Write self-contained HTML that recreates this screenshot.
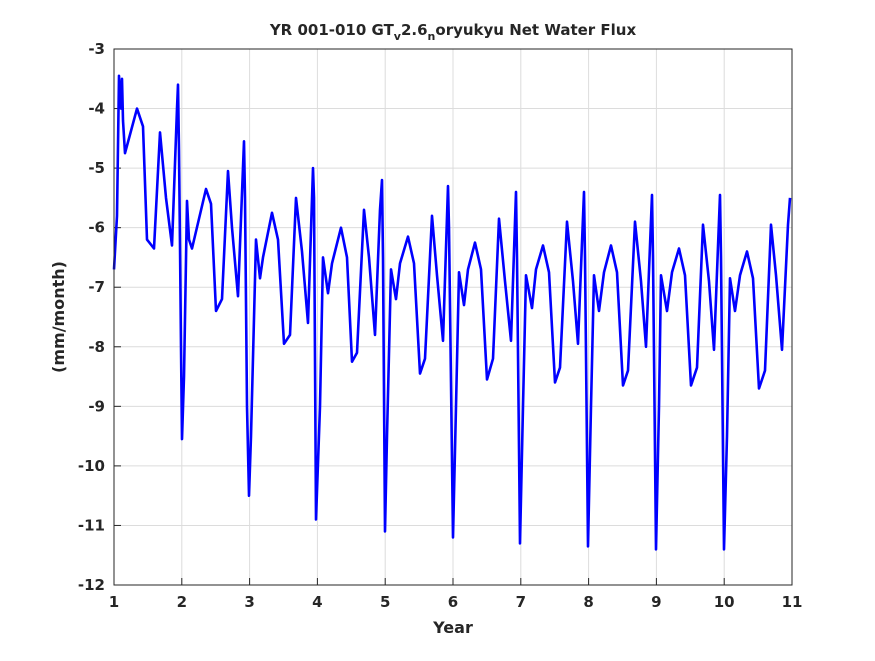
<!DOCTYPE html>
<html><head><meta charset="utf-8"><style>
html,body{margin:0;padding:0;background:#fff;}
svg text{font-family:"DejaVu Sans","Liberation Sans",sans-serif;font-weight:bold;fill:#262626;}
</style></head><body>
<svg id="chart" width="875" height="656" xmlns="http://www.w3.org/2000/svg">
<rect width="875" height="656" fill="#fff"/>
<g id="grid"></g>
<g id="ticks"></g>
<polyline id="series" fill="none" stroke="#0000ff" stroke-width="2.6" stroke-linejoin="round"/>
<rect x="114" y="49" width="678" height="536" fill="none" stroke="#262626" stroke-width="1"/>
<text x="453" y="35" text-anchor="middle" font-size="15">YR 001-010 GT<tspan font-size="11" dy="5">v</tspan><tspan dy="-5">2.6</tspan><tspan font-size="11" dy="5">n</tspan><tspan dy="-5">oryukyu Net Water Flux</tspan></text>
<text x="453" y="633" text-anchor="middle" font-size="16">Year</text>
<text transform="translate(64,317) rotate(-90)" text-anchor="middle" font-size="16">(mm/month)</text>
</svg>
<script>
const xTicks=[1,2,3,4,5,6,7,8,9,10,11];
const yTicks=[-3,-4,-5,-6,-7,-8,-9,-10,-11,-12];
const years=[1.000,1.044,1.074,1.103,1.118,1.133,1.162,1.339,1.428,1.487,1.590,1.678,1.767,1.855,1.929,1.944,1.959,1.973,1.988,2.003,2.032,2.077,2.106,2.150,2.357,2.431,2.504,2.593,2.681,2.740,2.829,2.917,2.932,2.962,2.991,3.021,3.094,3.153,3.198,3.330,3.419,3.507,3.596,3.684,3.773,3.861,3.935,3.950,3.979,4.038,4.083,4.156,4.215,4.348,4.437,4.510,4.584,4.687,4.761,4.850,4.923,4.953,4.968,4.997,5.027,5.086,5.159,5.218,5.336,5.425,5.513,5.587,5.690,5.764,5.853,5.926,5.941,6.000,6.044,6.088,6.162,6.221,6.324,6.413,6.501,6.590,6.678,6.767,6.855,6.929,6.944,6.988,7.032,7.077,7.165,7.224,7.327,7.416,7.504,7.578,7.681,7.770,7.844,7.932,7.947,7.991,8.035,8.080,8.153,8.227,8.330,8.419,8.507,8.581,8.684,8.773,8.847,8.935,8.950,8.994,9.038,9.068,9.156,9.230,9.333,9.422,9.510,9.599,9.687,9.776,9.850,9.938,9.953,9.997,10.041,10.086,10.159,10.233,10.336,10.425,10.513,10.602,10.690,10.764,10.853,10.941,10.971];
const flux=[-6.7,-5.8,-3.45,-4.0,-3.5,-4.2,-4.75,-4.0,-4.3,-6.2,-6.35,-4.4,-5.5,-6.3,-4.0,-3.6,-4.7,-6.3,-8.0,-9.55,-8.5,-5.55,-6.2,-6.35,-5.35,-5.6,-7.4,-7.2,-5.05,-6.0,-7.15,-4.55,-5.5,-9.0,-10.5,-9.5,-6.2,-6.85,-6.5,-5.75,-6.2,-7.95,-7.8,-5.5,-6.4,-7.6,-5.0,-5.5,-10.9,-9.0,-6.5,-7.1,-6.6,-6.0,-6.5,-8.25,-8.1,-5.7,-6.5,-7.8,-5.7,-5.2,-6.5,-11.1,-9.5,-6.7,-7.2,-6.6,-6.15,-6.6,-8.45,-8.2,-5.8,-6.8,-7.9,-5.3,-6.0,-11.2,-9.0,-6.75,-7.3,-6.7,-6.25,-6.7,-8.55,-8.2,-5.85,-6.9,-7.9,-5.4,-6.5,-11.3,-9.0,-6.8,-7.35,-6.7,-6.3,-6.75,-8.6,-8.35,-5.9,-6.9,-7.95,-5.4,-6.5,-11.35,-9.0,-6.8,-7.4,-6.75,-6.3,-6.75,-8.65,-8.4,-5.9,-6.9,-8.0,-5.45,-6.5,-11.4,-9.0,-6.8,-7.4,-6.75,-6.35,-6.8,-8.65,-8.35,-5.95,-6.9,-8.05,-5.45,-6.5,-11.4,-9.5,-6.85,-7.4,-6.8,-6.4,-6.85,-8.7,-8.4,-5.95,-6.8,-8.05,-5.95,-5.5];
const L=114,R=792,T=49,B=585,xMin=1,xMax=11,yMin=-12,yMax=-3;
const xs=v=>L+(v-xMin)/(xMax-xMin)*(R-L);
const ys=v=>B-(v-yMin)/(yMax-yMin)*(B-T);
const NS="http://www.w3.org/2000/svg";
const grid=document.getElementById('grid'),ticks=document.getElementById('ticks');
function mk(tag,attrs,parent){const e=document.createElementNS(NS,tag);for(const k in attrs)e.setAttribute(k,attrs[k]);parent.appendChild(e);return e;}
xTicks.forEach(v=>{
  const x=xs(v);
  const g=mk('line',{x1:x,x2:x,y1:T,y2:B,stroke:'#dcdcdc','stroke-width':1},grid);
  
  
  const t=mk('line',{x1:x,x2:x,y1:B,y2:B-7,stroke:'#262626'},ticks);
  
  
  const lb=mk('text',{x:x,y:B+22,'text-anchor':'middle','font-size':15},ticks);
  lb.textContent=v;
  
  
});
yTicks.forEach(v=>{
  const y=ys(v);
  const g=mk('line',{x1:L,x2:R,y1:y,y2:y,stroke:'#dcdcdc','stroke-width':1},grid);
  
  
  const t=mk('line',{x1:L,x2:L+7,y1:y,y2:y,stroke:'#262626'},ticks);
  
  
  const lb=mk('text',{x:L-9,y:y+5,'text-anchor':'end','font-size':15},ticks);
  lb.textContent=v;
  
  
});
document.getElementById('series').setAttribute('points',years.map((v,i)=>xs(v).toFixed(1)+','+ys(flux[i]).toFixed(1)).join(' '));
</script>
</body></html>
